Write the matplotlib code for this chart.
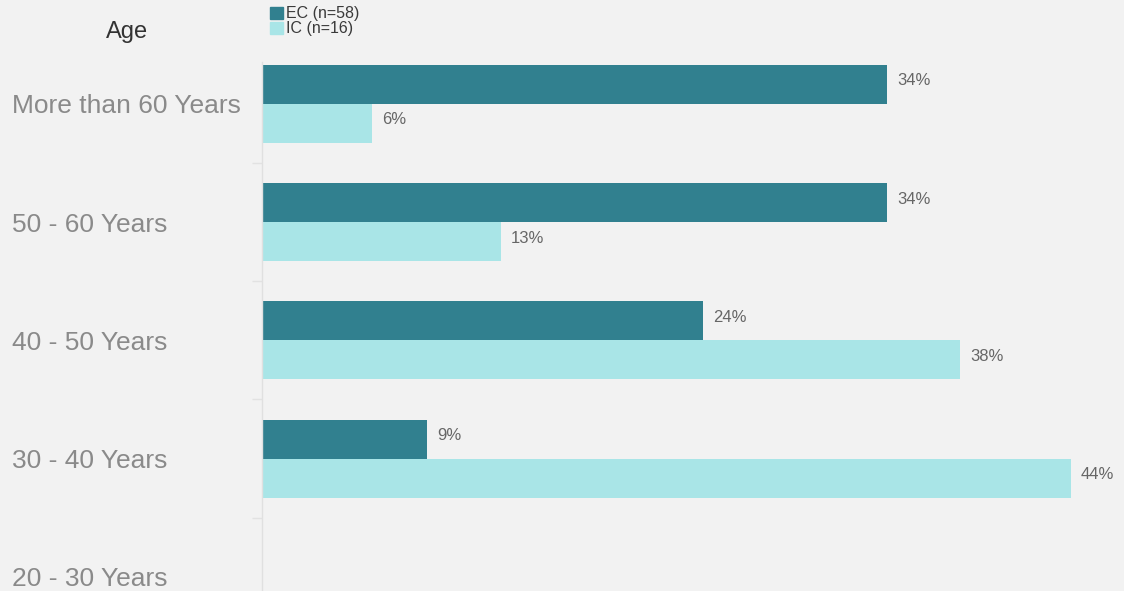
import matplotlib.pyplot as plt
import numpy as np
from matplotlib.patches import Patch

plt.rcParams['font.family'] = ['Liberation Sans', 'DejaVu Sans']

categories = ['20 - 30 Years', '30 - 40 Years', '40 - 50 Years',
              '50 - 60 Years', 'More than 60 Years']
ec_pct = [0, 9, 24, 34, 34]
ic_pct = [0, 44, 38, 13, 6]
labels = ['EC (n=58)', 'IC (n=16)']
colors = ['#31808f', '#a9e5e7']
bg = '#f2f2f2'

fig = plt.figure(figsize=(11.24, 5.91), dpi=100, facecolor=bg)
ax = fig.add_axes([262 / 1124, 0, 1 - 262 / 1124, 1 - 62 / 591])
ax.set_facecolor(bg)

y = np.arange(len(categories))
h = 0.33
ax.barh(y + h / 2, ec_pct, height=h, color=colors[0])
ax.barh(y - h / 2, ic_pct, height=h, color=colors[1])

for yi, v in zip(y, ec_pct):
    if v:
        ax.text(v + 0.55, yi + h / 2 + 0.03, f'{v}%', va='center', ha='left',
                fontsize=12, color='#666666')
for yi, v in zip(y, ic_pct):
    if v:
        ax.text(v + 0.55, yi - h / 2 + 0.03, f'{v}%', va='center', ha='left',
                fontsize=12, color='#666666')

ax.set_xlim(0, 46.9)
ax.set_ylim(-0.12, 4.354)
ax.set_xticks([])
ax.set_yticks(y)
# category names start near the left edge of the figure
ax.set_yticklabels(categories, fontsize=19, color='#8a8a8a', ha='left')
ax.set_yticks(y[:-1] + 0.5, minor=True)
ax.tick_params(axis='y', which='major', length=0, pad=(262 - 12) * 0.72)
ax.tick_params(axis='y', which='minor', length=7, color='#e2e2e2', width=1)
for s in ['top', 'right', 'bottom']:
    ax.spines[s].set_visible(False)
ax.spines['left'].set_color('#e0e0e0')
ax.spines['left'].set_linewidth(1)

fig.text(127 / 1124, 1 - 32 / 591, 'Age', fontsize=17, color='#333333',
         ha='center', va='center')

handles = [Patch(color=c) for c in colors]
fig.legend(handles, labels, loc='upper left',
           bbox_to_anchor=(259 / 1124, 1 + 5 / 591), frameon=False,
           fontsize=11.5, labelcolor='#3a3a3a', handlelength=0.8,
           handleheight=0.8, handletextpad=0.2, labelspacing=0.0,
           borderpad=0.2)

fig.savefig('out.png', dpi=100, facecolor=bg)
